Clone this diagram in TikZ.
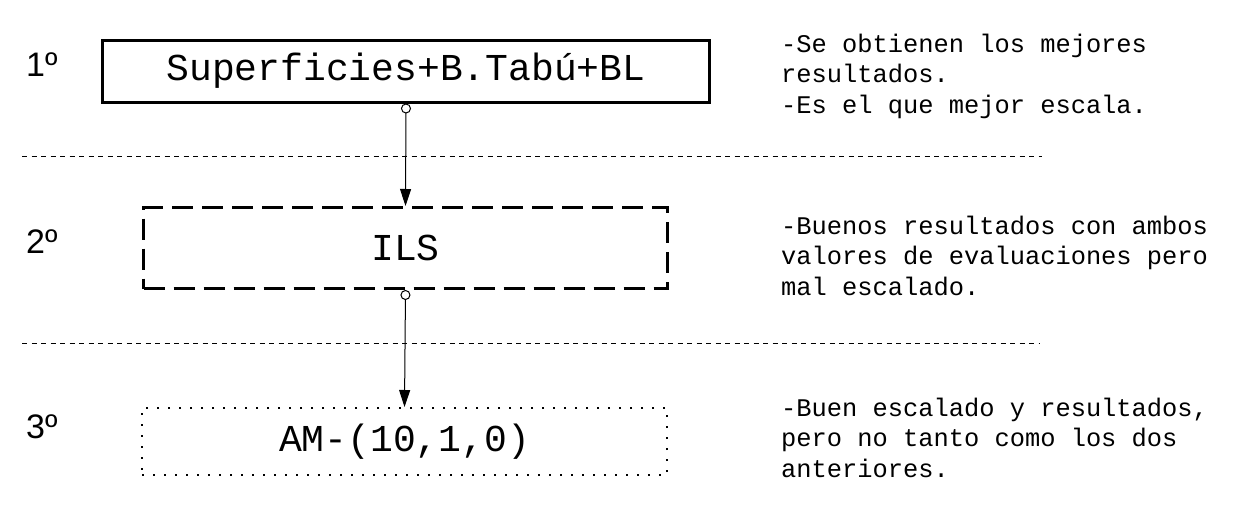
\documentclass[tikz,border=0pt]{standalone}
\usepackage{fontspec}
\setmainfont{Liberation Mono}
\newfontfamily\lsans{Liberation Sans}
\usetikzlibrary{arrows.meta}
\tikzset{
  boxtext/.style={font=\fontsize{38}{44}\selectfont, inner sep=0pt, draw=black},
  rank/.style={font=\lsans\fontsize{34}{38}\selectfont, anchor=base west, inner sep=0pt},
  note/.style={font=\fontsize{25.4}{30.5}\selectfont, anchor=base west, inner sep=0pt, align=left},
  sep/.style={line width=1pt, dash pattern=on 5pt off 4.5pt},
  conn/.style={line width=1pt, {Circle[open,length=10pt,width=10pt,line width=1pt]}-{Triangle[length=17pt,width=11pt]}}
}
\begin{document}
\begin{tikzpicture}[x=1pt,y=-1pt]
\useasboundingbox (0,0) rectangle (1234,522);
\node[boxtext, line width=3pt, minimum width=607pt, minimum height=62pt] (b1) at (406,71) {Superficies+B.Tabú+BL};
\node[boxtext, line width=3pt, dash pattern=on 21pt off 9pt, minimum width=524pt, minimum height=81pt] (b2) at (405.5,248) {ILS};
\node[boxtext, line width=2pt, dash pattern=on 2pt off 9pt, minimum width=525pt, minimum height=67pt] (b3) at (404.5,441.5) {AM-(10,1,0)};
\node[rank] (r1) at (26,76) {1º};
\node[rank] (r2) at (26,253) {2º};
\node[rank] (r3) at (26,438) {3º};
\coordinate (s1a) at (22,156); \coordinate (s1b) at (1042,156);
\coordinate (s2a) at (22,343); \coordinate (s2b) at (1040,343);
\draw[sep] (s1a) -- (s1b);
\draw[sep] (s2a) -- (s2b);
\draw[conn] (b1.south) -- (b2.north);
\draw[conn] (b2.south) -- (b3.north);
\node[note] (n1) at (781,113) {-Se obtienen los mejores\\resultados.\\-Es el que mejor escala.};
\node[note] (n2) at (781,295) {-Buenos resultados con ambos\\valores de evaluaciones pero\\mal escalado.};
\node[note] (n3) at (781,477) {-Buen escalado y resultados,\\pero no tanto como los dos\\anteriores.};
\end{tikzpicture}
\end{document}
